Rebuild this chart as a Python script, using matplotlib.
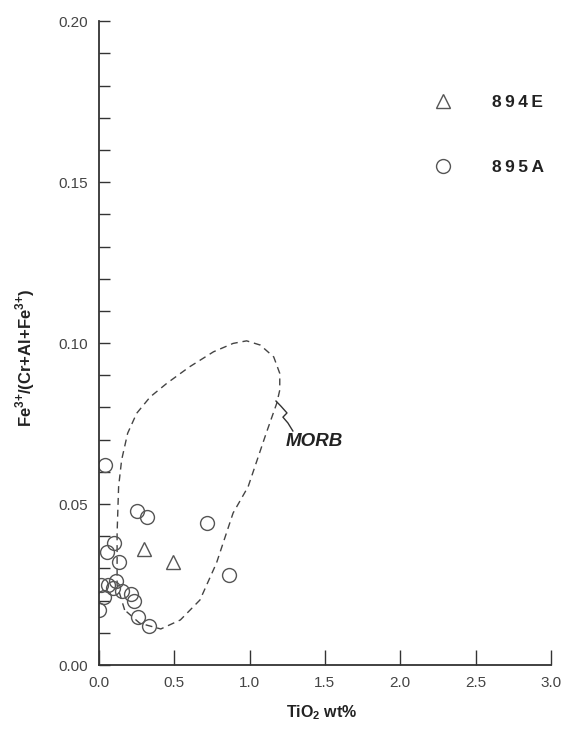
import numpy as np
import matplotlib.pyplot as plt

plt.rcParams['font.family'] = ['Liberation Sans', 'DejaVu Sans']
plt.rcParams['mathtext.fontset'] = 'custom'
plt.rcParams['mathtext.rm'] = 'Liberation Sans'
plt.rcParams['mathtext.bf'] = 'Liberation Sans:bold'

# 894E (triangles)
tio2_894e = [0.30, 0.49]
fe_894e = [0.036, 0.032]

# 895A (circles)
tio2_895a = [0.04, 0.25, 0.32, 0.72, 0.10, 0.05, 0.13, 0.86, 0.01, 0.06,
             0.11, 0.09, 0.15, 0.21, 0.23, 0.03, 0.00, 0.26, 0.33]
fe_895a = [0.062, 0.048, 0.046, 0.044, 0.038, 0.035, 0.032, 0.028, 0.025, 0.025,
           0.026, 0.024, 0.023, 0.022, 0.020, 0.021, 0.017, 0.015, 0.012]

# MORB field outline
morb_x = [0.17, 0.12, 0.12, 0.13, 0.15, 0.19, 0.25, 0.34, 0.45, 0.60, 0.76, 0.89,
          0.98, 1.07, 1.16, 1.20, 1.20, 1.18, 1.11, 1.05, 0.99, 0.89, 0.78, 0.67,
          0.54, 0.41, 0.27, 0.17]
morb_y = [0.0171, 0.0248, 0.0410, 0.0554, 0.0637, 0.0720, 0.0782, 0.0833, 0.0875,
          0.0926, 0.0973, 0.0999, 0.1007, 0.0994, 0.0957, 0.0906, 0.0854, 0.0813,
          0.0720, 0.0637, 0.0554, 0.0472, 0.0317, 0.0202, 0.0140, 0.0112, 0.0130,
          0.0171]

# MORB label leader
lead_x = [1.175, 1.208, 1.248, 1.221, 1.254, 1.287]
lead_y = [0.0820, 0.0804, 0.0783, 0.0770, 0.0752, 0.0727]

grey = '#555555'

fig = plt.figure(figsize=(5.86, 7.3), dpi=100)
ax = fig.add_axes([0.169, 0.089, 0.771, 0.882])

ax.plot(morb_x, morb_y, ls=(0, (5, 3.5)), color='#444444', lw=1.0)
ax.plot(lead_x, lead_y, color='#333333', lw=1.0)
ax.text(1.24, 0.0693, 'MORB', fontsize=13.5, fontweight='bold', fontstyle='italic',
        color='#222222', va='center', ha='left')

ax.plot(tio2_895a, fe_895a, 'o', ms=10, mfc='none', mec=grey, mew=1.0,
        label='\u2009'.join('895A'), ls='none')
ax.plot(tio2_894e, fe_894e, '^', ms=10, mfc='none', mec=grey, mew=1.0,
        label='\u2009'.join('894E'), ls='none')

handles, labels = ax.get_legend_handles_labels()
leg = ax.legend(handles[::-1], labels[::-1], loc='upper left', bbox_to_anchor=(0.708, 0.910),
                frameon=False, handletextpad=2.3, labelspacing=2.9, handlelength=1.0,
                prop={'weight': 'bold', 'size': 12.5})
for t in leg.get_texts():
    t.set_color('#222222')

ax.set_xlim(0, 3.0)
ax.set_ylim(0, 0.20)
ax.set_xticks(np.arange(0, 3.01, 0.5))
ax.set_yticks(np.arange(0, 0.201, 0.05))
ax.set_yticks(np.arange(0, 0.201, 0.01), minor=True)
ax.xaxis.set_major_formatter(plt.FormatStrFormatter('%.1f'))
ax.yaxis.set_major_formatter(plt.FormatStrFormatter('%.2f'))
ax.tick_params(axis='both', which='both', direction='in', color='#333333',
               labelsize=11, labelcolor='#444444', width=1.0)
ax.tick_params(axis='x', length=11, pad=8)
ax.tick_params(axis='y', which='both', length=8, pad=8)

for s in ['top', 'right']:
    ax.spines[s].set_visible(False)
for s in ['left', 'bottom']:
    ax.spines[s].set_color('#333333')
    ax.spines[s].set_linewidth(1.3)

ax.set_xlabel(r'TiO$_\mathbf{2}$ wt%', fontsize=11.5, fontweight='bold', color='#222222')
ax.xaxis.set_label_coords(0.493, -0.060)
ax.set_ylabel(r'Fe$^\mathbf{3{+}}$/(Cr+Al+Fe$^\mathbf{3{+}}$)', fontsize=12, fontweight='bold',
              color='#222222')
ax.yaxis.set_label_coords(-0.137, 0.477)

fig.savefig('out.png', dpi=100)
